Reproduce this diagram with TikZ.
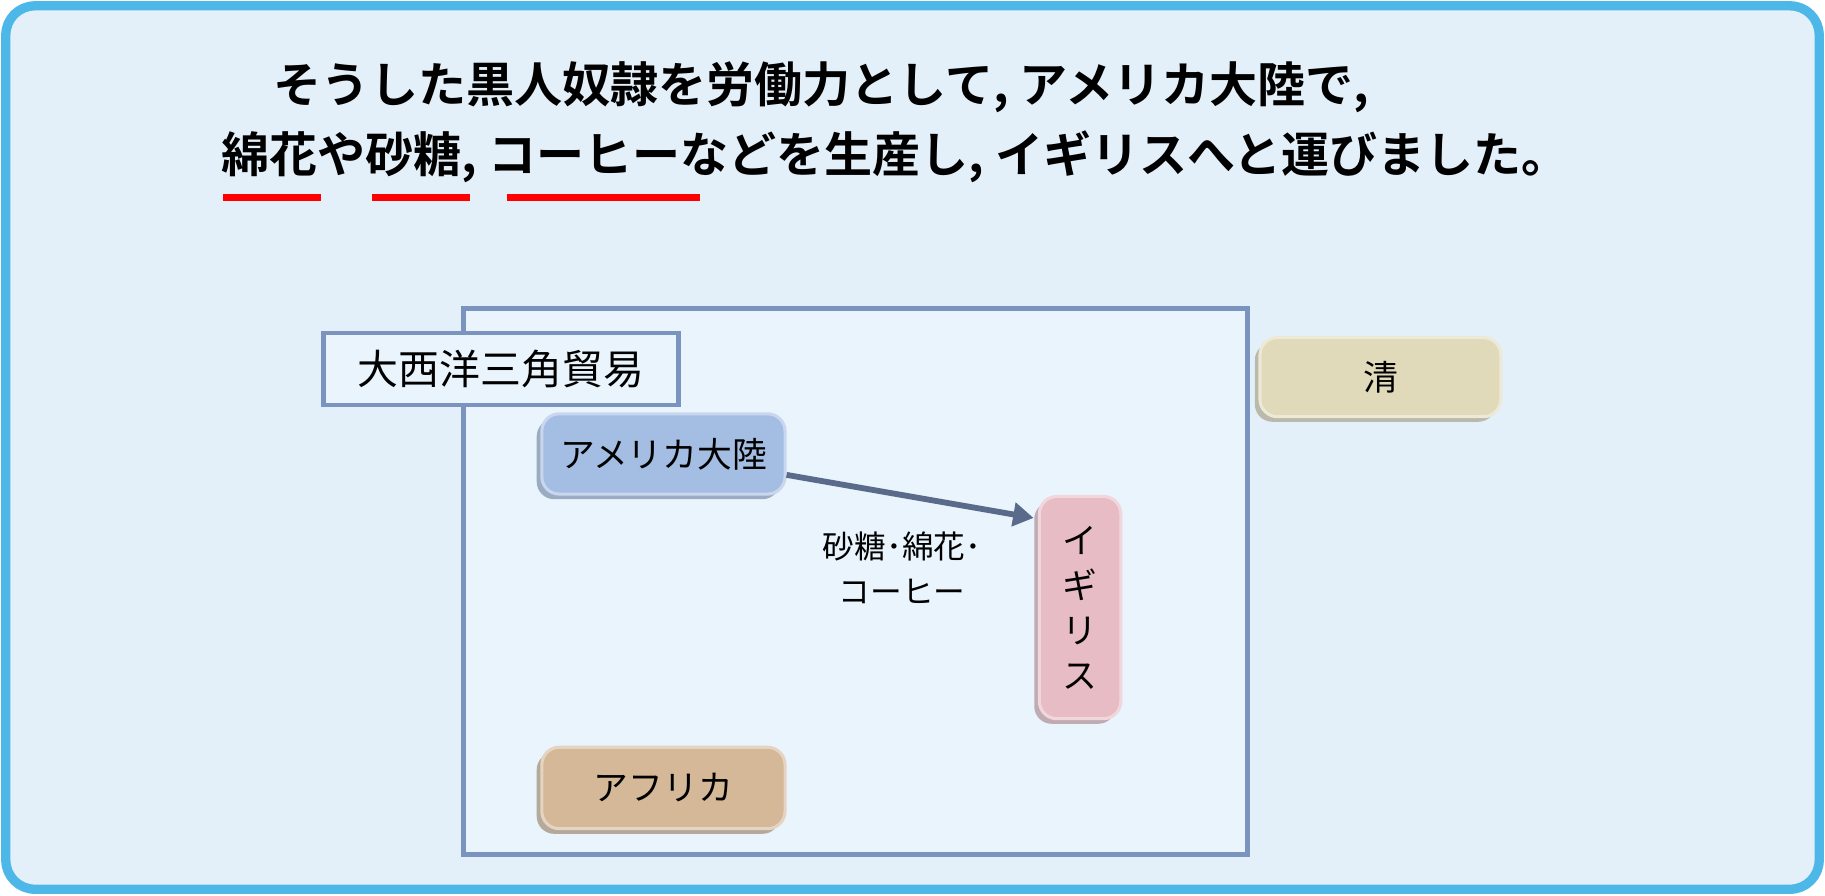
\documentclass[tikz,border=0pt]{standalone}
\usepackage{fontspec}
\setmainfont{Noto Sans CJK JP}[BoldFont={Noto Sans CJK JP Bold}]
\usetikzlibrary{shadows,arrows.meta}
\definecolor{frame}{HTML}{4DB8E8}
\definecolor{bgc}{HTML}{E4F0F9}
\definecolor{inner}{HTML}{E9F4FC}
\definecolor{boxb}{HTML}{7A93BF}
\definecolor{arr}{HTML}{5A6A8A}
\definecolor{cam}{RGB}{163,189,227}
\definecolor{cuk}{RGB}{232,188,197}
\definecolor{caf}{RGB}{212,184,152}
\definecolor{cqi}{RGB}{224,218,187}
\tikzset{
 x=0.02cm,y=-0.02cm,
 pill/.style={rounded corners=0.3cm, draw=#1!60!white, line width=1.5pt, fill=#1,
   drop shadow={shadow xshift=-2.5pt, shadow yshift=-2.5pt, fill=#1!75!black, opacity=0.7},
   font=\fontsize{17}{20}\selectfont, inner sep=0pt},
 title/.style={font=\fontsize{23.5}{28}\selectfont\bfseries, anchor=west, inner sep=0pt},
 uline/.style={red, line width=3.4pt},
}
\begin{document}
\begin{tikzpicture}
\useasboundingbox (0,0) rectangle (1568,769);
\draw[frame, fill=bgc, line width=0.16cm, rounded corners=0.5cm] (5,5) rectangle (1563,764);
\node[title] (t1) at (235,75) {そうした黒人奴隷を労働力として, アメリカ大陸で,};
\node[title] (t2) at (190,135) {綿花や砂糖, コーヒーなどを生産し, イギリスへと運びました。};
\draw[uline] (192,170) -- (276,170);
\draw[uline] (320,170) -- (404,170);
\draw[uline] (436,170) -- (601,170);
\node[draw=boxb, fill=inner, line width=0.08cm, minimum width=13.48cm, minimum height=9.38cm, anchor=north west] (area) at (396,263) {};
\node[draw=boxb, fill=inner, line width=0.08cm, minimum width=6.1cm, minimum height=1.24cm, anchor=north west, font=\fontsize{20}{24}\selectfont] (lab) at (276,284) {大西洋三角貿易};
\node[pill=cam, minimum width=4.18cm, minimum height=1.38cm] (am) at (570,390) {アメリカ大陸};
\node[pill=cuk, minimum width=1.4cm, minimum height=3.82cm, align=center, font=\fontsize{17}{22}\selectfont] (uk) at (928,522) {イ\\ギ\\リ\\ス};
\node[pill=caf, minimum width=4.18cm, minimum height=1.4cm] (af) at (570,677) {アフリカ};
\node[pill=cqi, minimum width=4.14cm, minimum height=1.36cm] (qing) at (1186,324) {清};
\coordinate (ae) at (888,445);
\draw[arr, line width=0.1cm, -{Triangle[length=0.35cm,width=0.4cm]}] (am.east |- 0,408) -- (ae);
\node[align=center, font=\fontsize{15.5}{22}\selectfont] (goods) at (775,488) {砂糖･綿花･\\コーヒー};
\end{tikzpicture}
\end{document}
